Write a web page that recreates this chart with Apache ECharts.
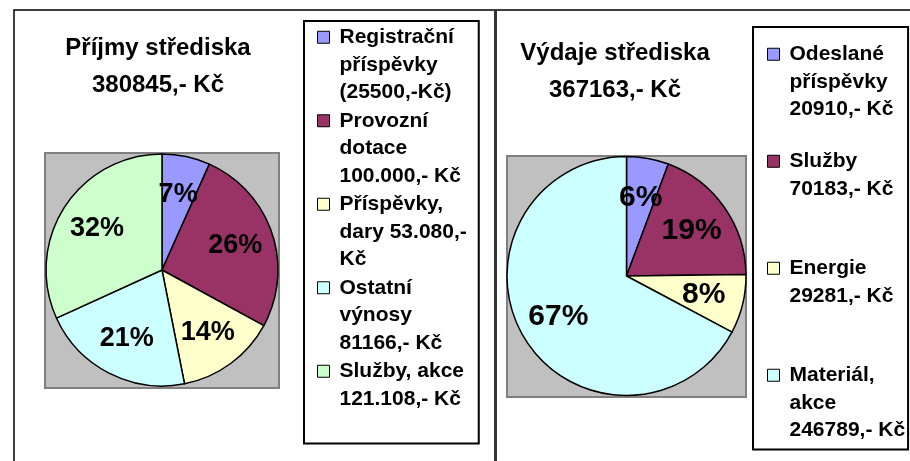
<!DOCTYPE html>
<html>
<head>
<meta charset="utf-8">
<script src="https://cdn.jsdelivr.net/npm/echarts@6/dist/echarts.min.js"></script>
<style>
  body { margin: 0; background: #fff; }
  #container-chart { width: 910px; height: 461px; }
</style>
</head>
<body>
<div id="container-chart"></div>
<script>
// income (left pie)
var incomeTitle = 'Příjmy střediska\n380845,- Kč';
var incomeNames = ['Registrační\npříspěvky\n(25500,-Kč)', 'Provozní\ndotace\n100.000,- Kč', 'Příspěvky,\ndary 53.080,-\nKč', 'Ostatní\nvýnosy\n81166,- Kč', 'Služby, akce\n121.108,- Kč'];
var incomeValues = [25500, 100000, 53080, 81166, 121108];
var incomeColors = ['#9999ff', '#993366', '#ffffcc', '#ccffff', '#ccffcc'];

// expenses (right pie)
var expenseTitle = 'Výdaje střediska\n367163,- Kč';
var expenseNames = ['Odeslané\npříspěvky\n20910,- Kč', 'Služby\n70183,- Kč', 'Energie\n29281,- Kč', 'Materiál,\nakce\n246789,- Kč'];
var expenseValues = [20910, 70183, 29281, 246789];
var expenseColors = ['#9999ff', '#993366', '#ffffcc', '#ccffff'];

var font = '"Liberation Sans", Arial, sans-serif';

function toData(names, values) {
  var out = [];
  for (var i = 0; i < names.length; i++) {
    out.push({name: names[i], value: values[i]});
  }
  return out;
}

// every legend entry gets 3 lines so the icon sits on the first one
function padLines(name) {
  var lines = name.split('\n');
  while (lines.length < 3) lines.push('');
  return lines.join('\n');
}

function makeLegend(names, left, top, gap, padding) {
  return {
    orient: 'vertical',
    left: left,
    top: top,
    itemGap: gap,
    padding: padding,
    data: names,
    selectedMode: false,
    icon: 'path://M0,0M17,82.5M0,7.75h12v12h-12z',
    itemWidth: 17,
    itemHeight: 82.5,
    backgroundColor: '#fff',
    borderColor: '#000',
    borderWidth: 2,
    itemStyle: {borderColor: '#000', borderWidth: 1},
    textStyle: {fontFamily: font, fontWeight: 'bold', fontSize: 21, lineHeight: 27.5, color: '#000'},
    formatter: padLines
  };
}

function piePair(names, values, colors, center, r, labelSize) {
  return [{
    type: 'pie',
    center: center,
    radius: r,
    startAngle: 90,
    clockwise: true,
    color: colors,
    data: toData(names, values),
    label: {show: false},
    labelLine: {show: false},
    emphasis: {disabled: true},
    itemStyle: {borderColor: '#000', borderWidth: 1.5}
  }, {
    // transparent copy only carrying the percent labels
    type: 'pie',
    center: center,
    radius: [r * 0.28, r],
    startAngle: 90,
    clockwise: true,
    silent: true,
    avoidLabelOverlap: false,
    data: toData(names, values),
    itemStyle: {color: 'rgba(0,0,0,0)', borderWidth: 0},
    labelLine: {show: false},
    emphasis: {disabled: true},
    label: {
      show: true,
      position: 'inside',
      color: '#000',
      fontFamily: font,
      fontWeight: 'bold',
      fontSize: labelSize,
      formatter: function (p) { return Math.round(p.percent) + '%'; }
    }
  }];
}

function drawChart(element) {
  var dom = document.getElementById('container-' + element);
  var myChart = echarts.init(dom);
  var option = {
    animation: false,
    title: [
      {text: incomeTitle, left: 158, top: 30, textAlign: 'center', padding: 0,
       textStyle: {fontFamily: font, fontWeight: 'bold', fontSize: 24, lineHeight: 37, color: '#000'}},
      {text: expenseTitle, left: 615, top: 35, textAlign: 'center', padding: 0,
       textStyle: {fontFamily: font, fontWeight: 'bold', fontSize: 24, lineHeight: 37, color: '#000'}}
    ],
    legend: [
      makeLegend(incomeNames, 304, 21, 0, [2, 12, 3, 13]),
      makeLegend(expenseNames, 753, 27, 23.5, [13, 3, 5, 14])
    ],
    graphic: [
      {type: 'rect', shape: {x: 14, y: 10, width: 1000, height: 600}, style: {fill: 'none', stroke: '#000', lineWidth: 1.5}},
      {type: 'line', shape: {x1: 495.5, y1: 10, x2: 495.5, y2: 461}, style: {stroke: '#333', lineWidth: 3}},
      {type: 'rect', shape: {x: 45, y: 153, width: 234, height: 235}, style: {fill: '#c0c0c0', stroke: '#808080', lineWidth: 2}},
      {type: 'rect', shape: {x: 507, y: 156, width: 239, height: 241}, style: {fill: '#c0c0c0', stroke: '#808080', lineWidth: 2}}
    ],
    series: piePair(incomeNames, incomeValues, incomeColors, [162, 270], 116, 27)
      .concat(piePair(expenseNames, expenseValues, expenseColors, [626.5, 276], 119.5, 30))
  };
  myChart.setOption(option, true);
}

drawChart('chart');
</script>
</body>
</html>
